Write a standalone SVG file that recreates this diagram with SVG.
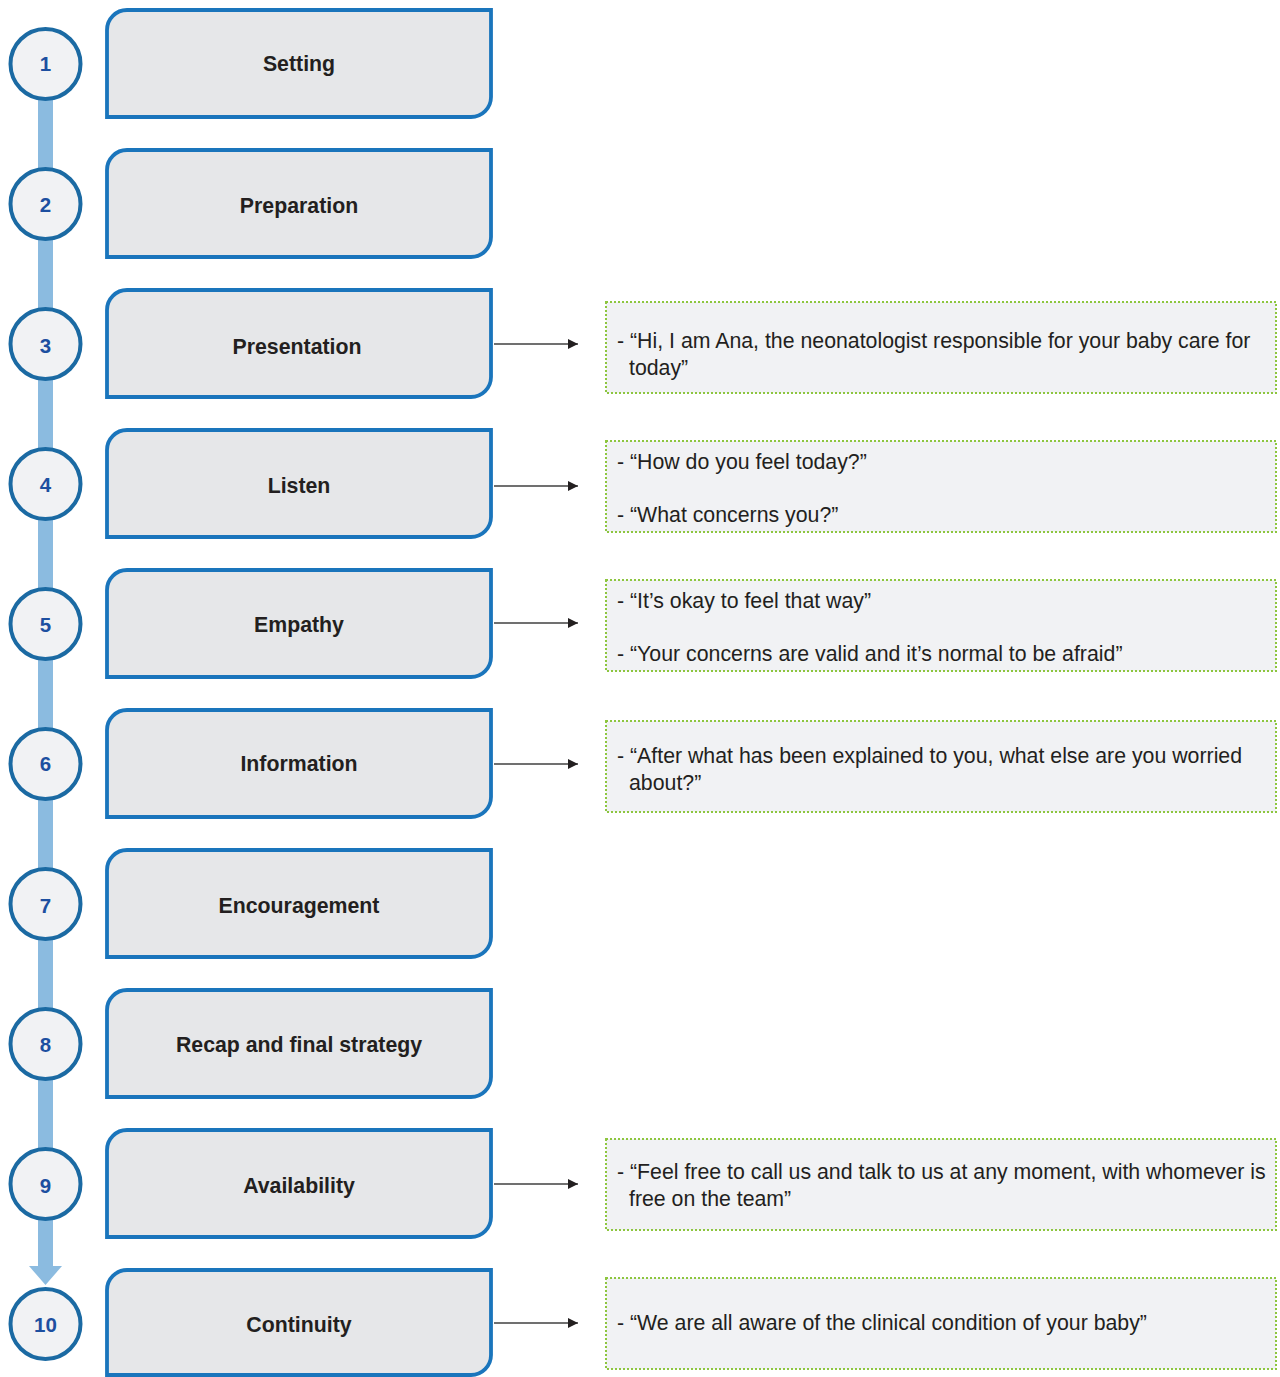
<svg xmlns="http://www.w3.org/2000/svg" width="1280" height="1377" viewBox="0 0 1280 1377">
<defs>
<style>
.step{fill:#e6e7e9;stroke:#1a75bc;stroke-width:3.8}
.num{fill:#f1f2f4;stroke:#1b6aa3;stroke-width:4}
.numt{font-family:"Liberation Sans",Arial,sans-serif;font-size:20.5px;font-weight:bold;fill:#1d4fa0;text-anchor:middle}
.lbl{font-family:"Liberation Sans",Arial,sans-serif;font-size:21.3px;font-weight:bold;fill:#231f20;text-anchor:middle}
.note{fill:#f1f2f4;stroke:#8dc63f;stroke-width:2;stroke-dasharray:2 2}
.nt{font-family:"Liberation Sans",Arial,sans-serif;font-size:21.3px;fill:#231f20}
.conn{stroke:#404040;stroke-width:1.3;fill:none;marker-end:url(#ah)}
</style>
<marker id="ah" viewBox="0 0 10 10" refX="10" refY="5" markerWidth="10" markerHeight="10" markerUnits="userSpaceOnUse" orient="auto">
<path d="M0,0 L10,5 L0,10 Z" fill="#231f20"/>
</marker>
</defs>
<rect width="1280" height="1377" fill="#ffffff"/>
<g id="timeline">
<rect x="38" y="64" width="15" height="1204" fill="#8bbbe0"/>
<path d="M29,1266 H62 L45.5,1285 Z" fill="#8bbbe0"/>
</g>
<g id="connectors">
<path class="conn" d="M494,344 H578"/>
<path class="conn" d="M494,486 H578"/>
<path class="conn" d="M494,623 H578"/>
<path class="conn" d="M494,764 H578"/>
<path class="conn" d="M494,1184 H578"/>
<path class="conn" d="M494,1323 H578"/>
</g>
<g id="n1"><circle class="num" cx="45.5" cy="64" r="35"/><text class="numt" x="45.5" y="71">1</text>
<path class="step" d="M107,30 A20,20 0 0 1 127,10 H491 V97 A20,20 0 0 1 471,117 H107 Z"/><text class="lbl" x="299" y="71">Setting</text></g>
<g id="n2"><circle class="num" cx="45.5" cy="204" r="35"/><text class="numt" x="45.5" y="212">2</text>
<path class="step" d="M107,170 A20,20 0 0 1 127,150 H491 V237 A20,20 0 0 1 471,257 H107 Z"/><text class="lbl" x="299" y="213">Preparation</text></g>
<g id="n3"><circle class="num" cx="45.5" cy="344" r="35"/><text class="numt" x="45.5" y="353">3</text>
<path class="step" d="M107,310 A20,20 0 0 1 127,290 H491 V377 A20,20 0 0 1 471,397 H107 Z"/><text class="lbl" x="297" y="354">Presentation</text></g>
<g id="n4"><circle class="num" cx="45.5" cy="484" r="35"/><text class="numt" x="45.5" y="492">4</text>
<path class="step" d="M107,450 A20,20 0 0 1 127,430 H491 V517 A20,20 0 0 1 471,537 H107 Z"/><text class="lbl" x="299" y="493">Listen</text></g>
<g id="n5"><circle class="num" cx="45.5" cy="624" r="35"/><text class="numt" x="45.5" y="632">5</text>
<path class="step" d="M107,590 A20,20 0 0 1 127,570 H491 V657 A20,20 0 0 1 471,677 H107 Z"/><text class="lbl" x="299" y="632">Empathy</text></g>
<g id="n6"><circle class="num" cx="45.5" cy="764" r="35"/><text class="numt" x="45.5" y="771">6</text>
<path class="step" d="M107,730 A20,20 0 0 1 127,710 H491 V797 A20,20 0 0 1 471,817 H107 Z"/><text class="lbl" x="299" y="771">Information</text></g>
<g id="n7"><circle class="num" cx="45.5" cy="904" r="35"/><text class="numt" x="45.5" y="913">7</text>
<path class="step" d="M107,870 A20,20 0 0 1 127,850 H491 V937 A20,20 0 0 1 471,957 H107 Z"/><text class="lbl" x="299" y="913">Encouragement</text></g>
<g id="n8"><circle class="num" cx="45.5" cy="1044" r="35"/><text class="numt" x="45.5" y="1052">8</text>
<path class="step" d="M107,1010 A20,20 0 0 1 127,990 H491 V1077 A20,20 0 0 1 471,1097 H107 Z"/><text class="lbl" x="299" y="1052">Recap and final strategy</text></g>
<g id="n9"><circle class="num" cx="45.5" cy="1184" r="35"/><text class="numt" x="45.5" y="1193">9</text>
<path class="step" d="M107,1150 A20,20 0 0 1 127,1130 H491 V1217 A20,20 0 0 1 471,1237 H107 Z"/><text class="lbl" x="299" y="1193">Availability</text></g>
<g id="n10"><circle class="num" cx="45.5" cy="1324" r="35"/><text class="numt" x="45.5" y="1332">10</text>
<path class="step" d="M107,1290 A20,20 0 0 1 127,1270 H491 V1355 A20,20 0 0 1 471,1375 H107 Z"/><text class="lbl" x="299" y="1332">Continuity</text></g>
<g id="note3"><rect class="note" x="606" y="302" width="670" height="91"/>
<text class="nt" x="617" y="348">- “Hi, I am Ana, the neonatologist responsible for your baby care for</text>
<text class="nt" x="629" y="375">today”</text></g>
<g id="note4"><rect class="note" x="606" y="441" width="670" height="91"/>
<text class="nt" x="617" y="469">- “How do you feel today?”</text>
<text class="nt" x="617" y="522">- “What concerns you?”</text></g>
<g id="note5"><rect class="note" x="606" y="580" width="670" height="91"/>
<text class="nt" x="617" y="608">- “It’s okay to feel that way”</text>
<text class="nt" x="617" y="661">- “Your concerns are valid and it’s normal to be afraid”</text></g>
<g id="note6"><rect class="note" x="606" y="721" width="670" height="91"/>
<text class="nt" x="617" y="763">- “After what has been explained to you, what else are you worried</text>
<text class="nt" x="629" y="790">about?”</text></g>
<g id="note9"><rect class="note" x="606" y="1139" width="670" height="91"/>
<text class="nt" x="617" y="1179">- “Feel free to call us and talk to us at any moment, with whomever is</text>
<text class="nt" x="629" y="1206">free on the team”</text></g>
<g id="note10"><rect class="note" x="606" y="1278" width="670" height="91"/>
<text class="nt" x="617" y="1330">- “We are all aware of the clinical condition of your baby”</text></g>
</svg>
